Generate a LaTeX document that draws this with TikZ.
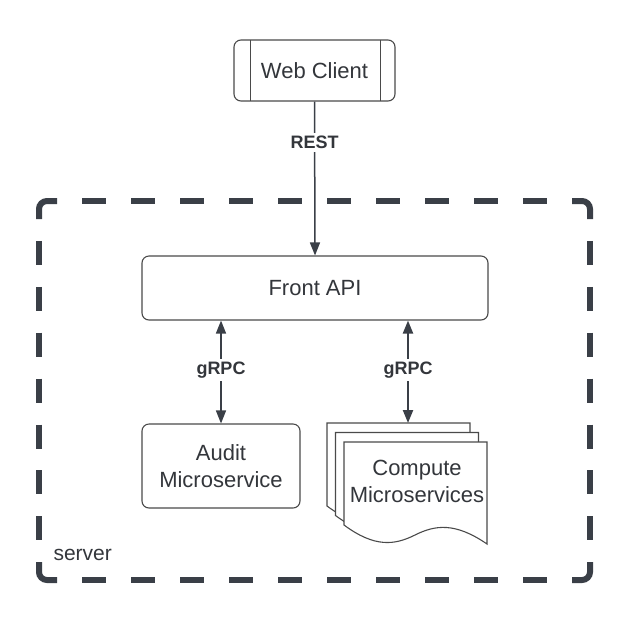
\documentclass[tikz,border=0pt]{standalone}
\usepackage{fontspec}
\setmainfont{Liberation Sans}
\usetikzlibrary{arrows.meta}
\definecolor{linec}{HTML}{3A3F47}
\definecolor{textc}{HTML}{33363B}
\definecolor{boxc}{HTML}{4A4A4A}
\tikzset{
  box/.style={draw=boxc, line width=1.1pt, rounded corners=7pt, fill=white, inner sep=0pt,
    text=textc, font=\fontsize{22}{27}\selectfont, align=center},
  conn/.style={draw=linec, line width=1.5pt, -{Triangle[length=13pt,width=10pt]}},
  conn2/.style={draw=linec, line width=1.5pt, {Triangle[length=13pt,width=10pt]}-{Triangle[length=13pt,width=10pt]}},
  lbl/.style={fill=white, text=textc, font=\fontsize{18}{21}\bfseries\selectfont, inner sep=3pt},
  border/.style={draw=linec, line width=6pt, line cap=butt},
  docshape/.style={draw=boxc, line width=1.1pt, fill=white},
}
\begin{document}
\begin{tikzpicture}[x=1pt,y=-1pt]
\useasboundingbox (0,0) rectangle (631,622);

% server container (dashed)
\draw[border, rounded corners=8pt] (39,219) -- (39,201) -- (57,201);
\draw[border, rounded corners=8pt] (572,201) -- (590,201) -- (590,219);
\draw[border, rounded corners=8pt] (39,562) -- (39,580) -- (57,580);
\draw[border, rounded corners=8pt] (572,580) -- (590,580) -- (590,562);
\foreach \i in {0,...,9}{
  \draw[border] ({82+49*\i},201) -- ++(24,0);
  \draw[border] ({82+49*\i},580) -- ++(24,0);
}
\foreach \i in {0,...,6}{
  \draw[border] (39,{240.9+45.9*\i}) -- ++(0,24);
  \draw[border] (590,{240.9+45.9*\i}) -- ++(0,24);
}
\node[anchor=west, text=textc, font=\fontsize{21}{25}\selectfont] (serverlbl) at (50,555) {server};

% Web Client
\node[box, minimum width=161pt, minimum height=61pt] (web) at (314.5,70.5) {Web Client};
\draw[boxc, line width=0.9pt] (250,40) -- (250,101) (380,40) -- (380,101);

% Front API
\node[box, minimum width=346pt, minimum height=64pt] (front) at (315,288) {Front API};

% Audit
\node[box, minimum width=158pt, minimum height=84pt] (audit) at (221,466) {Audit\\Microservice};

% Compute documents
\foreach \dx/\dy in {-17/-19, -8.5/-9.5, 0/0}{
  \begin{scope}[shift={(\dx,\dy)}]
    \path[docshape] (344,442) -- (487,442) -- (487,544)
      .. controls (455,522) and (435,525) .. (415,535)
      .. controls (395,545) and (375,548) .. (344,525) -- cycle;
  \end{scope}
}
\node[text=textc, font=\fontsize{22}{27}\selectfont, align=center] (compute) at (417,481) {Compute\\Microservices};
\coordinate (docTop) at (408,423);

% connectors
\draw[conn] (web.south) -- node[lbl, pos=0.265] {REST} (front.north);
\draw[conn2] (audit.north |- front.south) -- node[lbl, pos=0.48] {gRPC} (audit.north);
\draw[conn2, line width=2.2pt] (docTop |- front.south) -- node[lbl, pos=0.485] {gRPC} (docTop);
\end{tikzpicture}
\end{document}
